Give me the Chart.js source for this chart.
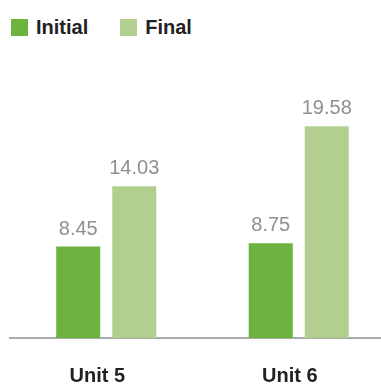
<!DOCTYPE html>
<html lang="en">
<head>
  <meta charset="UTF-8">
  <title>Initial vs Final</title>
  <script src="https://cdn.jsdelivr.net/npm/chart.js"></script>
  <style>
    body { margin: 0; width: 381px; height: 391px; overflow: hidden; background: #fff; font-family: "Liberation Sans", Arial, sans-serif; }
    .legenda { position: absolute; top: 16px; left: 11px; display: flex; align-items: center; }
    .item { display: flex; align-items: center; font-weight: bold; font-size: 20px; color: #222; margin-right: 32px; }
    .box { width: 17px; height: 17px; margin-right: 8px; }
    #grafico { position: absolute; top: 0; left: 0; }
  </style>
</head>
<body>

  <div class="legenda">
    <div class="item"><span class="box" style="background:#6db33f"></span>Initial</div>
    <div class="item"><span class="box" style="background:#b3cf8f"></span>Final</div>
  </div>

  <canvas id="grafico" width="400" height="414"></canvas>

<script>
const unidades = ['Unit 5', 'Unit 6']
const inicial = [8.45, 8.75]
const final = [14.03, 19.58]

// escreve o valor em cima de cada barra
const valoresBarras = {
  id: 'valoresBarras',
  afterDatasetsDraw(chart) {
    const ctx = chart.ctx
    ctx.save()
    ctx.font = '20px "Liberation Sans", Arial, sans-serif'
    ctx.fillStyle = '#8f8f8f'
    ctx.textAlign = 'center'
    ctx.textBaseline = 'alphabetic'
    chart.data.datasets.forEach((ds, i) => {
      chart.getDatasetMeta(i).data.forEach((bar, j) => {
        ctx.fillText(ds.data[j].toFixed(2), bar.x, bar.y - 12)
      })
    })
    ctx.restore()
  }
}

const ctx = document.getElementById('grafico').getContext('2d')
new Chart(ctx, {
  type: 'bar',
  data: {
    labels: unidades,
    datasets: [
      { label: 'Initial', data: inicial, backgroundColor: '#6db33f' },
      { label: 'Final', data: final, backgroundColor: '#b3cf8f' }
    ]
  },
  options: {
    responsive: false,
    animation: false,
    events: [],
    layout: { padding: { top: 100, left: 10, right: 5, bottom: 0 } },
    datasets: { bar: { categoryPercentage: 0.582, barPercentage: 0.786 } },
    plugins: { legend: { display: false }, tooltip: { enabled: false } },
    scales: {
      y: { display: false, min: 0, max: 22 },
      x: {
        grid: { display: false, drawTicks: false },
        border: { display: true, color: '#aaaaaa', width: 2 },
        ticks: {
          color: '#222',
          padding: 26,
          labelOffset: -9,
          font: { family: '"Liberation Sans", Arial, sans-serif', size: 20, weight: 'bold' }
        }
      }
    }
  },
  plugins: [valoresBarras]
})
</script>
</body>
</html>
